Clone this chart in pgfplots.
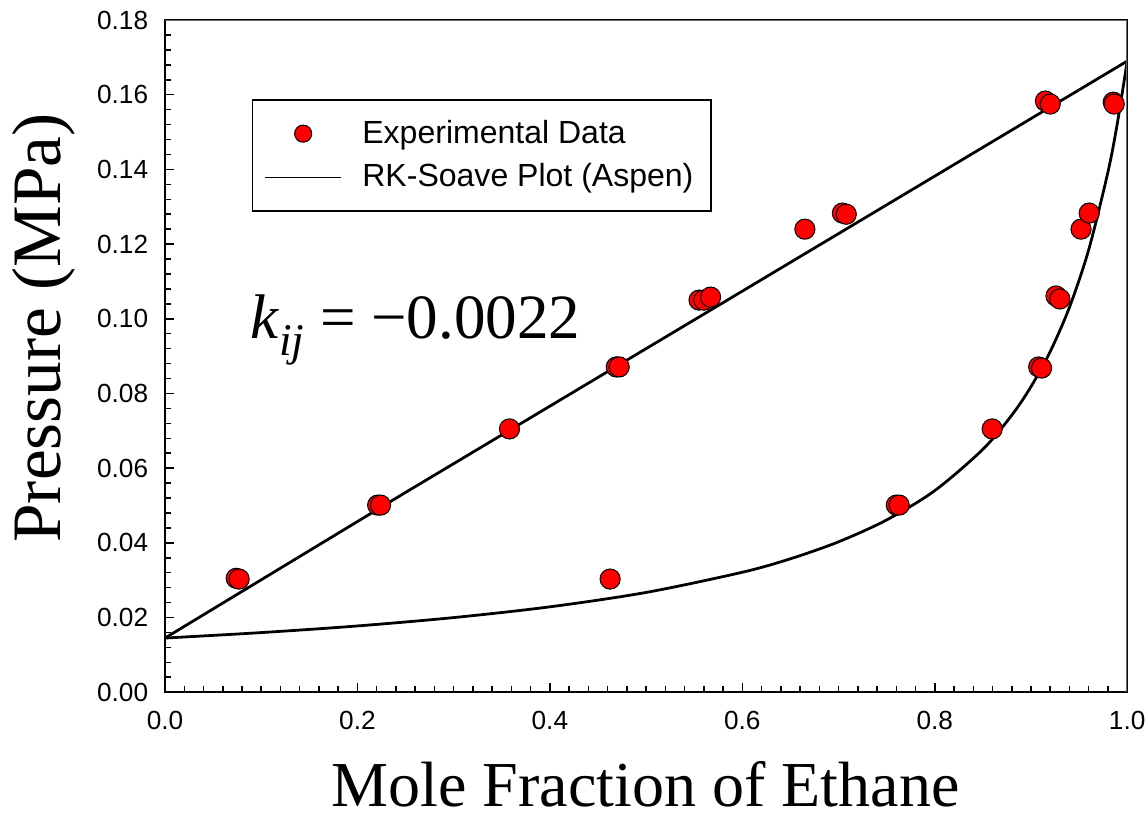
\documentclass[border=0pt]{standalone}
\usepackage{fontspec}
\setmainfont{Liberation Sans}
\newfontfamily\timesfont{Liberation Serif}
\usepackage{pgfplots}
\pgfplotsset{compat=1.18}

\begin{document}
\begin{tikzpicture}
\begin{axis}[
    scale only axis,
    width=13.41cm, height=9.368cm,
    xmin=0, xmax=1, ymin=0, ymax=0.18,
    xtick={0,0.2,0.4,0.6,0.8,1.0},
    ytick={0,0.02,0.04,0.06,0.08,0.10,0.12,0.14,0.16,0.18},
    minor x tick num=9, minor y tick num=4,
    xtick pos=bottom, ytick pos=left,
    tick align=inside,
    major tick length=3.6pt, minor tick length=2.4pt,
    tick style={black, line width=0.6pt},
    axis line style={line width=0.6pt},
    ticklabel style={font=\fontsize{10.4}{12}\selectfont, inner sep=1pt},
    /pgf/number format/assume math mode=true,
    xticklabel style={yshift=-6.5pt, /pgf/number format/.cd, fixed, fixed zerofill, precision=1},
    yticklabel style={xshift=-5.5pt, /pgf/number format/.cd, fixed, fixed zerofill, precision=2},
    scaled y ticks=false,
    xlabel={Mole Fraction of Ethane},
    ylabel={Pressure (MPa)},
    xlabel style={font=\timesfont\fontsize{25.4}{30}\selectfont, inner sep=0pt,
      at={(rel axis cs:0.4995,-0.170)}, anchor=base},
    ylabel style={font=\timesfont\fontsize{27.5}{32}\selectfont, inner sep=0pt,
      at={(rel axis cs:-0.126,0.542)}, anchor=center},
    legend style={at={(rel axis cs:0.09,0.882)}, anchor=north west,
      draw=black, line width=0.5pt, font=\fontsize{12.7}{15}\selectfont,
      inner xsep=5pt, inner ysep=6pt, row sep=2.6pt,
      nodes={inner sep=2pt, text depth=0.15em}},
    legend cell align=left,
]

% experimental points (bubble + dew)
\addplot[only marks, mark=*, mark size=4pt,
  mark options={fill=red, draw=black, line width=0.4pt},
  legend image code/.code={
    \path[draw=none] (0cm,0cm) -- (1.28cm,0cm);
    \draw[fill=red, draw=black, line width=0.4pt] (0.525cm,0cm) circle (3.4pt);}]
  coordinates {
  (0.074,0.0305) (0.077,0.0303)
  (0.221,0.0501) (0.224,0.0501)
  (0.358,0.0705)
  (0.469,0.0871) (0.472,0.0871)
  (0.555,0.1050) (0.560,0.1050) (0.567,0.1058)
  (0.665,0.1240)
  (0.704,0.1283) (0.708,0.1280)
  (0.915,0.1583) (0.920,0.1575)
  (0.4626,0.0303)
  (0.760,0.0501) (0.763,0.0501)
  (0.8597,0.0705)
  (0.908,0.0871) (0.911,0.0868)
  (0.926,0.1061) (0.930,0.1053)
  (0.952,0.1240)
  (0.9605,0.1283)
  (0.9855,0.1580) (0.9865,0.1575)
};
\addlegendentry{Experimental Data}

% RK-Soave bubble line
\addplot[black, line width=1.1pt, no marks,
  legend image code/.code={
    \draw[black, line width=0.5pt] (0cm,0cm) -- (1.05cm,0cm);
    \path[draw=none] (1.28cm,0cm);}]
  coordinates {
  (0,0.0145) (0.25,0.0535) (0.5,0.0920) (0.75,0.1305) (1,0.169)
};
\addlegendentry{RK-Soave Plot (Aspen)}

% RK-Soave dew curve
\addplot[black, line width=1.1pt, no marks, smooth, forget plot]
  coordinates {
  (0,0.01450) (0.1,0.01596) (0.2,0.01774) (0.3,0.01998) (0.4,0.02286)
  (0.5,0.02671) (0.6,0.03212) (0.65,0.03573) (0.7,0.04027) (0.75,0.04613)
  (0.8,0.05398) (0.85,0.06504) (0.88,0.07417) (0.9,0.08182) (0.92,0.09123)
  (0.94,0.10309) (0.96,0.11850) (0.98,0.13932) (0.99,0.15273) (1.0,0.16900)
};

% grey top and right frame lines
\draw[black!60, line width=0.6pt] (rel axis cs:0,1) -- (rel axis cs:1,1) -- (rel axis cs:1,0);

\node[anchor=base west, font=\timesfont\fontsize{25}{30}\selectfont, inner sep=0pt]
  at (axis cs:0.088,0.0948)
  {\textit{k}\raisebox{-0.28em}{\fontsize{18}{20}\selectfont\textit{ij}}\hspace{0.25em}=\hspace{0.25em}−0.0022};
\end{axis}
% page margins as in the reference
\path ([shift={(-2.30cm,-1.84cm)}]current axis.south west)
  rectangle ([shift={(0.29cm,0.279cm)}]current axis.north east);
\end{tikzpicture}
\end{document}
